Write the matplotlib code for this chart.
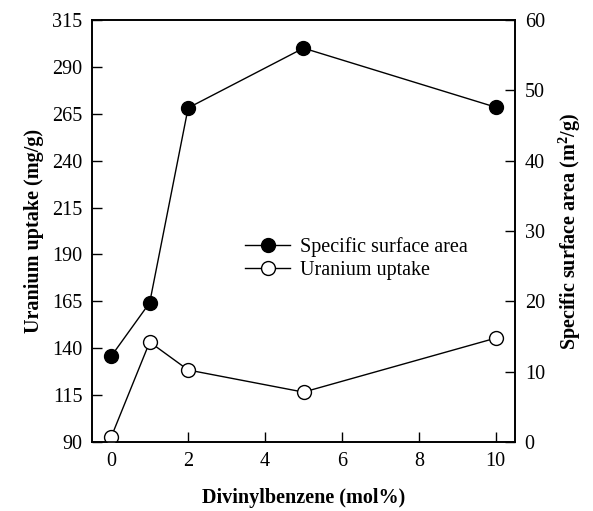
import matplotlib
matplotlib.use("Agg")
import matplotlib.pyplot as plt
from matplotlib.lines import Line2D

plt.rcParams['font.family'] = ['Liberation Serif', 'DejaVu Serif']
plt.rcParams['mathtext.fontset'] = 'custom'
plt.rcParams['mathtext.rm'] = 'Liberation Serif'
plt.rcParams['mathtext.bf'] = 'Liberation Serif:bold'

dvb = [0, 1, 2, 5, 10]
surface_area = [12.2, 19.8, 47.5, 56.0, 47.6]
uranium_uptake = [92.7, 143.3, 128.4, 116.6, 145.4]

left_ticks = [90, 115, 140, 165, 190, 215, 240, 265, 290, 315]
right_ticks = [0, 10, 20, 30, 40, 50, 60]
x_ticks = [0, 2, 4, 6, 8, 10]

fig = plt.figure(figsize=(5.93, 5.11), dpi=100)
ax = fig.add_axes([92/593, 1-442/511, 423/593, 422/511])
ax2 = ax.twinx()

ax.plot(dvb, uranium_uptake, '-o', color='black', mfc='white', mec='black',
        ms=10, lw=1, mew=1, zorder=3)
ax2.plot(dvb, surface_area, '-o', color='black', mfc='black', ms=10, lw=1, zorder=3)

ax.set_xlim(-0.5, 10.5)
ax.set_ylim(90, 315)
ax2.set_ylim(0, 60)
ax.set_xticks(x_ticks)
ax.set_yticks(left_ticks)
ax2.set_yticks(right_ticks)

for a in (ax, ax2):
    a.tick_params(direction='in', length=7, width=1, labelsize=14.5, pad=7)
    for s in a.spines.values():
        s.set_linewidth(1.2)

ax.set_xlabel('Divinylbenzene (mol%)', fontsize=14.5, fontweight='bold')
ax.xaxis.set_label_coords(0.5, -0.11)
ax.set_ylabel('Uranium uptake (mg/g)', fontsize=14.5, fontweight='bold', labelpad=6)
ax2.set_ylabel('Specific surface area (m$^{\\mathbf{2}}$/g)', fontsize=14.5,
               fontweight='bold', labelpad=8, rotation=90)

handles = [Line2D([], [], color='black', marker='o', mfc='black', ms=10, lw=1),
           Line2D([], [], color='black', marker='o', mfc='white', ms=10, lw=1)]
ax.legend(handles, ['Specific surface area', 'Uranium uptake'], loc='center left',
          bbox_to_anchor=(0.32, 0.435), frameon=False, fontsize=14.5,
          handlelength=2.2, handletextpad=0.5, labelspacing=0.2)

fig.savefig('out.png', dpi=100)
